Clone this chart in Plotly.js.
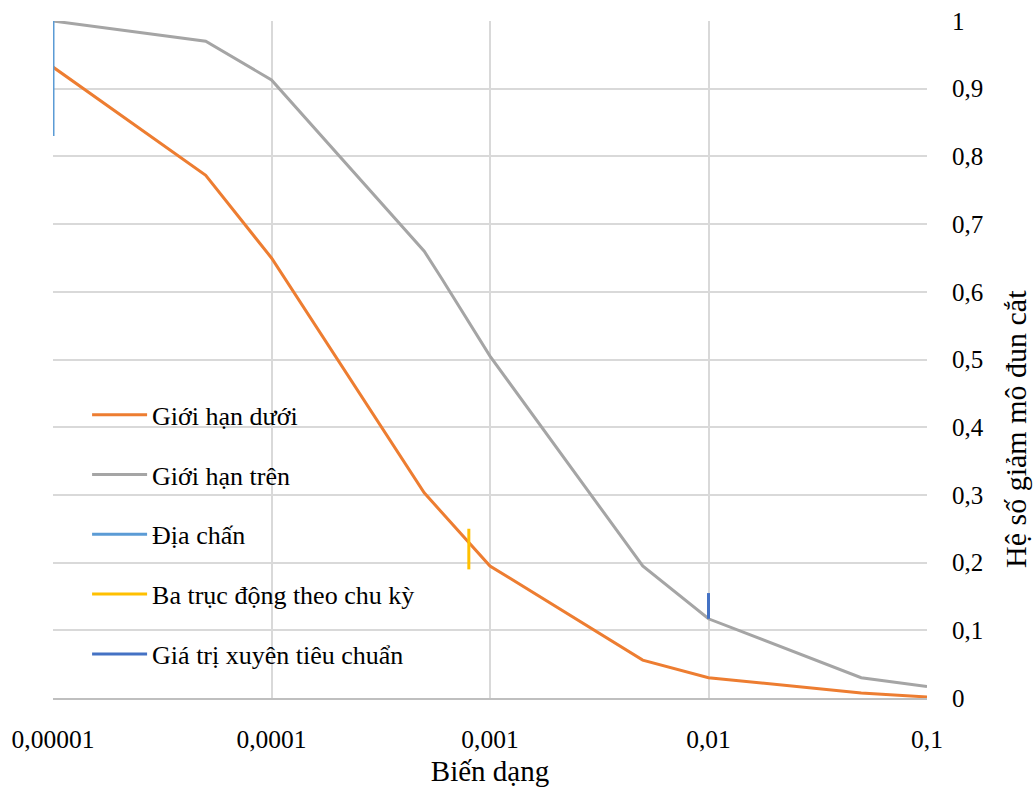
<!DOCTYPE html>
<html>
<head>
<meta charset="utf-8">
<script src="https://cdn.plot.ly/plotly-3.0.1.min.js"></script>
<style>html,body{margin:0;padding:0;background:#fff;}#chart{width:1036px;height:788px;}</style>
</head>
<body>
<div id="chart"></div>
<script>
// Strain values (x) for the bound curves
var strainLower = [0.00001, 0.00005, 0.0001, 0.0005, 0.001, 0.005, 0.01, 0.05, 0.1];
var lowerBound  = [0.932, 0.772, 0.650, 0.303, 0.195, 0.056, 0.030, 0.0075, 0.0015];

var strainUpper = [0.00001, 0.00005, 0.0001, 0.0005, 0.0006, 0.001, 0.005, 0.01, 0.05, 0.1];
var upperBound  = [1.0, 0.970, 0.913, 0.660, 0.620, 0.505, 0.195, 0.117, 0.030, 0.017];

// Vertical marks
var seismicX = [0.00001, 0.00001];
var seismicY = [0.83, 1.0];
var triaxialX = [0.0008, 0.0008];
var triaxialY = [0.19, 0.25];
var sptX = [0.01, 0.01];
var sptY = [0.117, 0.155];

var seriesNames = ["Giới hạn dưới", "Giới hạn trên", "Địa chấn", "Ba trục động theo chu kỳ", "Giá trị xuyên tiêu chuẩn"];
var seriesColors = ["#ED7D31", "#A5A5A5", "#5B9BD5", "#FFC000", "#4472C4"];

var xTickVals = [0.00001, 0.0001, 0.001, 0.01, 0.1];
var xTickText = ["0,00001", "0,0001", "0,001", "0,01", "0,1"];

var xTitle = "Biến dạng";
var yTitle = "Hệ số giảm mô đun cắt";

var FONT = "Liberation Serif";

function tr(x, y, i) {
  return {
    x: x, y: y, type: 'scatter', mode: 'lines', name: seriesNames[i],
    legendgroup: 'g' + i, legendrank: i + 1,
    line: {color: seriesColors[i], width: 3},
    hoverinfo: 'skip'
  };
}

var data = [
  tr(strainUpper, upperBound, 1),
  tr(strainLower, lowerBound, 0),
  tr(seismicX, seismicY, 2),
  tr(triaxialX, triaxialY, 3),
  tr(sptX, sptY, 4)
];

var layout = {
  width: 1036, height: 788,
  margin: {l: 53, r: 109, t: 21, b: 90},
  paper_bgcolor: '#ffffff', plot_bgcolor: '#ffffff',
  separators: ',.',
  font: {family: FONT, size: 25, color: '#000000'},
  showlegend: true,
  legend: {
    x: 0.039, y: 0.453, xanchor: 'left', yanchor: 'top',
    bgcolor: 'rgba(0,0,0,0)', borderwidth: 0,
    font: {family: FONT, size: 26, color: '#000000'},
    tracegroupgap: 23, itemwidth: 55
  },
  xaxis: {
    type: 'log', range: [-5, -1],
    tickmode: 'array', tickvals: xTickVals, ticktext: xTickText,
    showgrid: true, gridcolor: '#D9D9D9', gridwidth: 2,
    showline: true, linecolor: '#BFBFBF', linewidth: 2,
    zeroline: false, ticks: '', ticklabelstandoff: 17,
    tickfont: {family: FONT, size: 25.5, color: '#000000'},
    title: {text: xTitle, font: {family: FONT, size: 29, color: '#000000'}, standoff: 8}
  },
  yaxis: {
    side: 'right', range: [0, 1], dtick: 0.1, tick0: 0,
    showgrid: true, gridcolor: '#D9D9D9', gridwidth: 2,
    zeroline: false, showline: false, ticks: '', ticklabelstandoff: 24,
    tickfont: {family: FONT, size: 25, color: '#000000'}
  },
  annotations: [{
    text: yTitle, xref: 'paper', yref: 'paper',
    x: 1.1015, y: 0.397, xanchor: 'center', yanchor: 'middle',
    textangle: -90, showarrow: false,
    font: {family: FONT, size: 30, color: '#000000'}
  }]
};

Plotly.newPlot('chart', data, layout, {displayModeBar: false, staticPlot: true});
</script>
</body>
</html>
